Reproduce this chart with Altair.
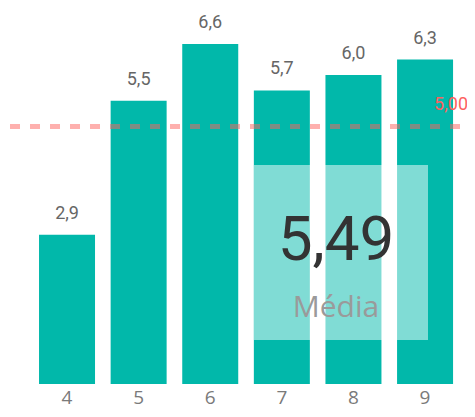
import altair as alt
import pandas as pd

categories = ["4", "5", "6", "7", "8", "9"]
values = [2.9, 5.5, 6.6, 5.7, 6.0, 6.3]
target_value = 5.0
target_label = "5,00"
mean_value = "5,49"
mean_label = "Média"

df = pd.DataFrame({
    "cat": categories,
    "val": values,
    "lbl": [f"{v:.1f}".replace(".", ",") for v in values],
})

TEAL = "#01B8AA"
RED = "#FD625E"

xscale = alt.Scale(paddingInner=0.218, paddingOuter=0.314, align=0.69)
yscale = alt.Scale(domain=[0, 7.3], nice=False)

base = alt.Chart(df)

bars = base.mark_bar(color=TEAL).encode(
    x=alt.X("cat:N", scale=xscale, sort=categories,
            axis=alt.Axis(title=None, labelAngle=0, ticks=False, domain=False,
                          labelFontSize=19, labelColor="#7A7A7A", labelPadding=19,
                          labelBaseline="alphabetic", labelFont="Open Sans")),
    y=alt.Y("val:Q", scale=yscale, axis=None),
)

labels = base.mark_text(dy=-16, fontSize=18, color="#666666", font="Roboto",
                        baseline="alphabetic").encode(
    x=alt.X("cat:N", scale=xscale, sort=categories),
    y=alt.Y("val:Q", scale=yscale),
    text="lbl:N",
)

tdf = pd.DataFrame({"t": [target_value], "tl": [target_label]})
rule = alt.Chart(tdf).mark_rule(color=RED, opacity=0.5, strokeWidth=5,
                                 strokeDash=[10, 10]).encode(
    y=alt.Y("t:Q", scale=yscale),
    x=alt.value(2), x2=alt.value(459),
)
rule_label = alt.Chart(tdf).mark_text(color=RED, fontSize=18, dy=-16, align="right",
                                       baseline="alphabetic", font="Roboto").encode(
    y=alt.Y("t:Q", scale=yscale),
    x=alt.value(460),
    text="tl:N",
)

cdf = pd.DataFrame({"m": [mean_value], "ml": [mean_label]})
card = alt.Chart(cdf).mark_rect(color="white", opacity=0.5).encode(
    x=alt.value(246), x2=alt.value(420), y=alt.value(157), y2=alt.value(332),
)
card_value = alt.Chart(cdf).mark_text(fontSize=62, color="#333333",
                                       font="Roboto",
                                       baseline="alphabetic").encode(
    x=alt.value(328), y=alt.value(252), text="m:N",
)
card_label = alt.Chart(cdf).mark_text(fontSize=30, color="#9A9A9A",
                                       font="Open Sans", baseline="alphabetic").encode(
    x=alt.value(328), y=alt.value(309), text="ml:N",
)

chart = alt.layer(bars, labels, rule, rule_label, card, card_value, card_label).properties(
    width=459, height=376,
    padding={"left": 0, "top": 0, "right": 0, "bottom": 25},
    autosize=alt.AutoSizeParams(type="none"),
).configure_view(stroke=None)

chart.save("out.html", embed_options={"renderer": "svg", "actions": False})
